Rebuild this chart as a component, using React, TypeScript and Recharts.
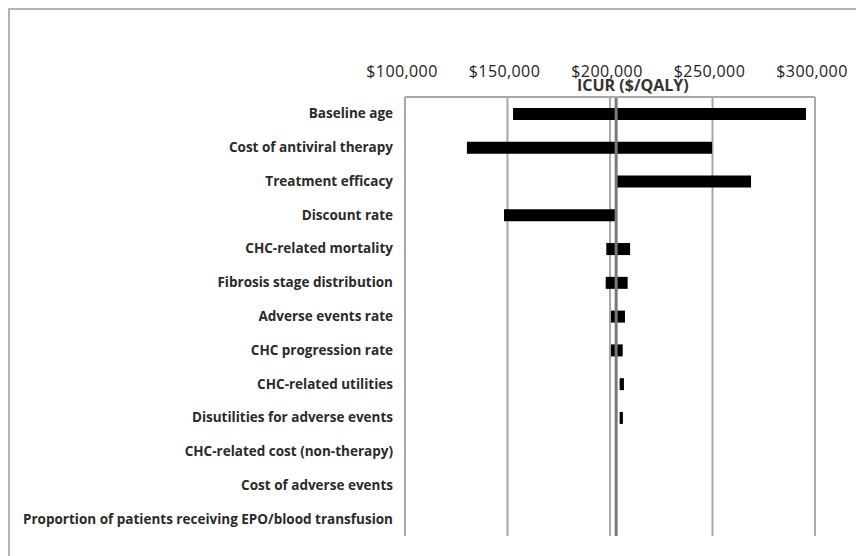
import { BarChart, Bar, XAxis, YAxis, CartesianGrid, ReferenceLine } from 'recharts';

// one-way sensitivity analysis, ICUR in $/QALY
const parameters = [
  'Baseline age',
  'Cost of antiviral therapy',
  'Treatment efficacy',
  'Discount rate',
  'CHC-related mortality',
  'Fibrosis stage distribution',
  'Adverse events rate',
  'CHC progression rate',
  'CHC-related utilities',
  'Disutilities for adverse events',
  'CHC-related cost (non-therapy)',
  'Cost of adverse events',
  'Proportion of patients receiving EPO/blood transfusion',
];

const lowValues = [152700, 130200, 203000, 148300, 198200, 197900, 200500, 200500, 204700, 204700, null, null, null];
const highValues = [295600, 249800, 268800, 203000, 209800, 208600, 207300, 206200, 206800, 206300, null, null, null];

const BASE_ICUR = 203000;
const xTicks = [100000, 150000, 200000, 250000, 300000];

const data = parameters.map((name, i) => ({
  name,
  range: lowValues[i] == null ? null : [lowValues[i], highValues[i]],
}));

const fmt = (v: number) => '$' + v.toLocaleString('en-US');

const TopTick = (props: any) => {
  const { x, y, payload } = props;
  return (
    <text x={x - 3} y={y - 12} textAnchor="middle" fontSize={16} letterSpacing={0.4} fill="#222"
      fontFamily="'Open Sans', sans-serif">
      {fmt(payload.value)}
    </text>
  );
};

const LeftTick = (props: any) => {
  const { x, y, payload } = props;
  return (
    <text x={x - 4} y={y} dy={4.5} textAnchor="end" fontSize={13.5} fontWeight="bold"
      fill="#2a2a2a" fontFamily="'Open Sans', sans-serif">
      {payload.value}
    </text>
  );
};

export default function App() {
  return (
    <div style={{ position: 'relative', width: 856, height: 548, borderTop: '2px solid #b4b4b4', borderLeft: '2px solid #b4b4b4', overflow: 'hidden' }}>
      <div style={{ position: 'absolute', left: 567, top: 64, fontFamily: "'Open Sans', sans-serif", fontSize: 16, fontWeight: 'bold', color: '#333', whiteSpace: 'nowrap' }}>
        ICUR ($/QALY)
      </div>
      <BarChart
        width={850}
        height={540}
        data={data}
        layout="vertical"
        margin={{ top: 2, right: 45, left: 0, bottom: 14 }}
        barCategoryGap={0}
      >
        <CartesianGrid horizontal={false} stroke="#a8a8a8" strokeWidth={2} />
        <XAxis
          type="number"
          orientation="top"
          domain={[100000, 300000]}
          ticks={xTicks}
          height={85}
          tickLine={false}
          axisLine={{ stroke: '#a8a8a8', strokeWidth: 2 }}
          tick={<TopTick />}
          allowDataOverflow
        />
        <YAxis
          type="category"
          dataKey="name"
          width={395}
          tickLine={false}
          axisLine={{ stroke: '#a8a8a8', strokeWidth: 1 }}
          tick={<LeftTick />}
          interval={0}
        />
        <Bar dataKey="range" fill="#000" barSize={12} isAnimationActive={false} />
        <ReferenceLine x={BASE_ICUR} stroke="#7a7a7a" strokeWidth={3} />
      </BarChart>
    </div>
  );
}
